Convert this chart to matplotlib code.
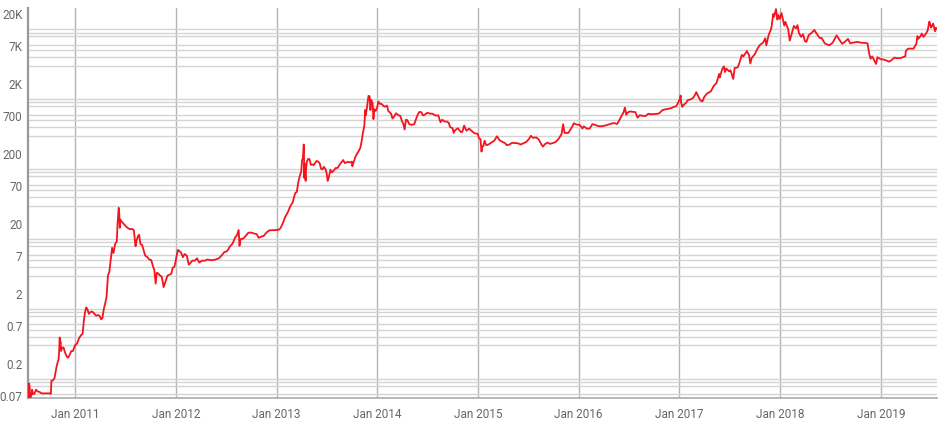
"""
Bitcoin-Kurs (USD) Juli 2010 bis Juli 2019, logarithmische Skala.
"""

import pandas as pd
import matplotlib
matplotlib.use("Agg")
from matplotlib import pyplot as plt
from matplotlib import ticker
from matplotlib.transforms import ScaledTranslation

tage_2010 = ["2010-07-17", "2010-07-18", "2010-07-20", "2010-07-22", "2010-07-24",
             "2010-07-27", "2010-07-29", "2010-08-01", "2010-08-06", "2010-08-12",
             "2010-08-18", "2010-08-25", "2010-09-01", "2010-09-10", "2010-09-20",
             "2010-09-30", "2010-10-05", "2010-10-07", "2010-10-12", "2010-10-18",
             "2010-10-25", "2010-10-29", "2010-11-02", "2010-11-04", "2010-11-06",
             "2010-11-07", "2010-11-09", "2010-11-11", "2010-11-15", "2010-11-20",
             "2010-11-25", "2010-12-01", "2010-12-06", "2010-12-12", "2010-12-18",
             "2010-12-24", "2010-12-31"]
kurs_2010 = [0.05, 0.086, 0.075, 0.051, 0.055, 0.06, 0.07, 0.061, 0.061, 0.07,
             0.066, 0.065, 0.062, 0.062, 0.062, 0.062, 0.061, 0.094, 0.095, 0.102,
             0.145, 0.17, 0.19, 0.25, 0.39, 0.30, 0.34, 0.25, 0.28, 0.28,
             0.24, 0.21, 0.20, 0.22, 0.25, 0.25, 0.30]

tage_2011 = ["2011-01-08", "2011-01-15", "2011-01-22", "2011-01-28", "2011-02-02",
             "2011-02-06", "2011-02-10", "2011-02-14", "2011-02-20", "2011-02-25",
             "2011-03-03", "2011-03-10", "2011-03-18", "2011-03-25", "2011-04-01",
             "2011-04-05", "2011-04-10", "2011-04-15", "2011-04-20", "2011-04-25",
             "2011-04-30", "2011-05-05", "2011-05-10", "2011-05-15", "2011-05-20",
             "2011-05-26", "2011-06-01", "2011-06-04", "2011-06-08", "2011-06-10",
             "2011-06-12", "2011-06-14", "2011-06-20", "2011-06-26", "2011-07-03",
             "2011-07-10", "2011-07-18", "2011-07-26", "2011-08-02", "2011-08-08",
             "2011-08-12", "2011-08-17", "2011-08-21", "2011-08-26", "2011-09-01",
             "2011-09-06", "2011-09-12", "2011-09-20", "2011-09-27", "2011-10-04",
             "2011-10-10", "2011-10-15", "2011-10-20", "2011-10-24", "2011-10-30",
             "2011-11-05", "2011-11-11", "2011-11-18", "2011-11-25", "2011-12-02",
             "2011-12-10", "2011-12-16", "2011-12-21", "2011-12-27", "2011-12-31"]
kurs_2011 = [0.32, 0.38, 0.42, 0.44, 0.70, 0.90, 1.05, 1.00, 0.85, 0.90,
             0.92, 0.87, 0.80, 0.82, 0.78, 0.71, 0.74, 1.0, 1.2, 1.5,
             3.0, 3.4, 5.0, 7.5, 6.3, 8.5, 9.2, 17, 28, 23,
             14.5, 19, 17.5, 16.5, 15.4, 14.5, 13.8, 14.0, 13.3, 7.9,
             9.6, 11.0, 11.5, 8.5, 8.2, 7.0, 5.8, 5.5, 5.1, 5.0,
             4.1, 3.6, 2.3, 3.3, 3.2, 3.0, 2.9, 2.05, 2.5, 3.0,
             3.1, 3.2, 3.9, 4.0, 4.7]

tage_2012 = ["2012-01-05", "2012-01-09", "2012-01-13", "2012-01-20", "2012-01-27",
             "2012-02-02", "2012-02-10", "2012-02-17", "2012-02-22", "2012-03-01",
             "2012-03-10", "2012-03-18", "2012-03-26", "2012-04-05", "2012-04-15",
             "2012-04-25", "2012-05-05", "2012-05-15", "2012-05-25", "2012-06-05",
             "2012-06-15", "2012-06-25", "2012-07-05", "2012-07-15", "2012-07-25",
             "2012-08-03", "2012-08-10", "2012-08-16", "2012-08-19", "2012-08-23",
             "2012-09-01", "2012-09-10", "2012-09-20", "2012-09-30", "2012-10-10",
             "2012-10-20", "2012-10-28", "2012-11-05", "2012-11-15", "2012-11-25",
             "2012-12-05", "2012-12-15", "2012-12-25", "2012-12-31"]
kurs_2012 = [6.0, 7.0, 6.8, 6.4, 5.5, 6.1, 5.8, 4.3, 4.5, 4.9,
             4.9, 5.3, 4.6, 4.9, 4.9, 5.1, 5.0, 5.0, 5.1, 5.3,
             5.8, 6.5, 6.7, 7.8, 8.6, 10.5, 11.4, 13.5, 8.0, 10.0,
             10.1, 11.0, 12.3, 12.4, 12.0, 11.8, 10.4, 10.8, 11.1, 12.4,
             13.3, 13.4, 13.4, 13.5]

tage_2013 = ["2013-01-07", "2013-01-15", "2013-01-25", "2013-01-31", "2013-02-10",
             "2013-02-20", "2013-02-28", "2013-03-05", "2013-03-10", "2013-03-15",
             "2013-03-20", "2013-03-25", "2013-03-31", "2013-04-03", "2013-04-06",
             "2013-04-09", "2013-04-10", "2013-04-11", "2013-04-12", "2013-04-14",
             "2013-04-16", "2013-04-17", "2013-04-20", "2013-04-25", "2013-04-30",
             "2013-05-05", "2013-05-10", "2013-05-15", "2013-05-20", "2013-05-26",
             "2013-06-01", "2013-06-06", "2013-06-11", "2013-06-16", "2013-06-21",
             "2013-06-27", "2013-07-01", "2013-07-05", "2013-07-09", "2013-07-15",
             "2013-07-20", "2013-07-27", "2013-08-03", "2013-08-10", "2013-08-20",
             "2013-08-30", "2013-09-05", "2013-09-15", "2013-09-25", "2013-10-01",
             "2013-10-02", "2013-10-06", "2013-10-15", "2013-10-25", "2013-10-31",
             "2013-11-05", "2013-11-10", "2013-11-15", "2013-11-18", "2013-11-20",
             "2013-11-25", "2013-11-30", "2013-12-04", "2013-12-07", "2013-12-10",
             "2013-12-15", "2013-12-18", "2013-12-21", "2013-12-26", "2013-12-31"]
kurs_2013 = [13.5, 14.3, 17.5, 20.4, 24, 29.8, 33.4, 40, 46, 47,
             64, 78, 93, 135, 142, 225, 165, 75, 120, 90,
             68, 93, 126, 140, 139, 115, 117, 114, 122, 131,
             128, 121, 101, 99, 108, 100, 88, 68, 76, 98,
             90, 95, 104, 104, 120, 135, 122, 127, 125, 128,
             110, 122, 155, 180, 200, 250, 335, 420, 700, 590,
             790, 1120, 1100, 700, 980, 870, 520, 720, 680, 750]

tage_2014 = ["2014-01-05", "2014-01-10", "2014-01-15", "2014-01-20", "2014-01-27",
             "2014-02-05", "2014-02-10", "2014-02-15", "2014-02-20", "2014-02-25",
             "2014-03-02", "2014-03-10", "2014-03-18", "2014-03-25", "2014-04-01",
             "2014-04-05", "2014-04-10", "2014-04-15", "2014-04-20", "2014-04-27",
             "2014-05-05", "2014-05-15", "2014-05-25", "2014-06-01", "2014-06-05",
             "2014-06-10", "2014-06-15", "2014-06-22", "2014-07-01", "2014-07-10",
             "2014-07-20", "2014-07-31", "2014-08-05", "2014-08-10", "2014-08-18",
             "2014-08-25", "2014-09-01", "2014-09-10", "2014-09-17", "2014-09-22",
             "2014-10-01", "2014-10-05", "2014-10-10", "2014-10-20", "2014-10-31",
             "2014-11-05", "2014-11-12", "2014-11-20", "2014-11-30", "2014-12-10",
             "2014-12-20", "2014-12-31"]
kurs_2014 = [930, 860, 860, 830, 780, 810, 680, 650, 620, 530,
             560, 630, 590, 580, 480, 450, 370, 510, 500, 440,
             430, 440, 570, 650, 660, 650, 590, 600, 640, 625,
             620, 585, 585, 590, 470, 510, 480, 480, 460, 400,
             385, 330, 360, 385, 340, 340, 420, 355, 380, 350,
             325, 320]

tage_2015 = ["2015-01-05", "2015-01-10", "2015-01-14", "2015-01-16", "2015-01-20",
             "2015-01-25", "2015-01-31", "2015-02-08", "2015-02-15", "2015-02-22",
             "2015-03-01", "2015-03-06", "2015-03-11", "2015-03-20", "2015-03-31",
             "2015-04-10", "2015-04-15", "2015-04-25", "2015-05-05", "2015-05-15",
             "2015-05-25", "2015-06-05", "2015-06-15", "2015-06-25", "2015-07-05",
             "2015-07-12", "2015-07-20", "2015-07-31", "2015-08-10", "2015-08-19",
             "2015-08-25", "2015-09-01", "2015-09-10", "2015-09-20", "2015-10-01",
             "2015-10-10", "2015-10-20", "2015-10-31", "2015-11-04", "2015-11-06",
             "2015-11-11", "2015-11-18", "2015-11-25", "2015-12-01", "2015-12-06",
             "2015-12-10", "2015-12-15", "2015-12-20", "2015-12-31"]
kurs_2015 = [275, 270, 178, 210, 212, 255, 220, 225, 235, 245,
             255, 275, 295, 260, 245, 235, 220, 225, 238, 236,
             235, 225, 235, 245, 270, 300, 280, 285, 265, 225,
             210, 228, 240, 230, 237, 245, 270, 315, 400, 440,
             330, 330, 330, 360, 390, 415, 455, 440, 430]

tage_2016 = ["2016-01-05", "2016-01-15", "2016-01-20", "2016-01-31", "2016-02-10",
             "2016-02-20", "2016-03-01", "2016-03-10", "2016-03-20", "2016-04-01",
             "2016-04-15", "2016-04-30", "2016-05-10", "2016-05-20", "2016-05-31",
             "2016-06-05", "2016-06-12", "2016-06-17", "2016-06-22", "2016-06-27",
             "2016-07-05", "2016-07-15", "2016-07-25", "2016-08-02", "2016-08-10",
             "2016-08-20", "2016-08-31", "2016-09-10", "2016-09-20", "2016-10-01",
             "2016-10-10", "2016-10-20", "2016-10-31", "2016-11-10", "2016-11-20",
             "2016-11-30", "2016-12-10", "2016-12-20", "2016-12-31"]
kurs_2016 = [430, 380, 410, 380, 380, 440, 430, 415, 410, 415,
             430, 450, 455, 443, 530, 580, 650, 760, 600, 645,
             670, 660, 655, 545, 590, 580, 575, 620, 610, 615,
             615, 630, 700, 715, 730, 740, 775, 790, 960]

tage_2017 = ["2017-01-03", "2017-01-05", "2017-01-07", "2017-01-11", "2017-01-15",
             "2017-01-25", "2017-02-01", "2017-02-10", "2017-02-20", "2017-02-28",
             "2017-03-03", "2017-03-10", "2017-03-18", "2017-03-25", "2017-04-01",
             "2017-04-10", "2017-04-25", "2017-05-05", "2017-05-15", "2017-05-25",
             "2017-05-27", "2017-06-05", "2017-06-11", "2017-06-15", "2017-06-20",
             "2017-06-30", "2017-07-05", "2017-07-15", "2017-07-20", "2017-07-31",
             "2017-08-05", "2017-08-15", "2017-08-20", "2017-08-31", "2017-09-02",
             "2017-09-10", "2017-09-15", "2017-09-20", "2017-10-01", "2017-10-12",
             "2017-10-20", "2017-10-31", "2017-11-08", "2017-11-12", "2017-11-20",
             "2017-11-28", "2017-12-01", "2017-12-07", "2017-12-10", "2017-12-17",
             "2017-12-22", "2017-12-26", "2017-12-31"]
kurs_2017 = [1020, 1130, 890, 780, 820, 890, 980, 990, 1050, 1190,
             1260, 1100, 960, 930, 1080, 1200, 1300, 1550, 1700, 2300,
             2050, 2700, 2950, 2450, 2750, 2500, 2600, 1950, 2800, 2850,
             3200, 4300, 4100, 4700, 4900, 4300, 3250, 3900, 4400, 5400,
             5990, 6450, 7450, 5900, 8200, 9800, 10900, 16600, 15200, 19500,
             13800, 16000, 14100]

tage_2018 = ["2018-01-06", "2018-01-10", "2018-01-16", "2018-01-20", "2018-01-30",
             "2018-02-05", "2018-02-10", "2018-02-20", "2018-02-28", "2018-03-05",
             "2018-03-10", "2018-03-18", "2018-03-25", "2018-04-01", "2018-04-06",
             "2018-04-15", "2018-04-25", "2018-05-05", "2018-05-15", "2018-05-25",
             "2018-06-01", "2018-06-12", "2018-06-28", "2018-07-10", "2018-07-25",
             "2018-08-05", "2018-08-14", "2018-08-25", "2018-09-04", "2018-09-12",
             "2018-09-25", "2018-10-10", "2018-10-20", "2018-11-05", "2018-11-14",
             "2018-11-20", "2018-11-25", "2018-12-01", "2018-12-15", "2018-12-20",
             "2018-12-31"]
kurs_2018 = [17100, 14600, 11300, 12800, 10100, 6900, 8100, 11200, 10300, 11500,
             8900, 7800, 8500, 6800, 6600, 8300, 8900, 9800, 8500, 7500,
             7500, 6300, 5900, 6400, 8200, 7000, 6200, 6700, 7300, 6300,
             6500, 6600, 6450, 6400, 6300, 4500, 3800, 4100, 3200, 4000,
             3750]

tage_2019 = ["2019-01-10", "2019-01-20", "2019-01-31", "2019-02-08", "2019-02-20",
             "2019-03-01", "2019-03-15", "2019-03-31", "2019-04-02", "2019-04-10",
             "2019-04-20", "2019-04-30", "2019-05-10", "2019-05-14", "2019-05-17",
             "2019-05-25", "2019-05-30", "2019-06-05", "2019-06-15", "2019-06-20",
             "2019-06-26", "2019-06-28", "2019-07-02", "2019-07-05", "2019-07-10",
             "2019-07-15", "2019-07-17", "2019-07-20", "2019-07-22"]
kurs_2019 = [3700, 3600, 3450, 3600, 3950, 3850, 3900, 4100, 4900, 5300,
             5300, 5300, 6200, 8000, 7300, 8000, 8700, 7800, 8800, 9600,
             12900, 12400, 10600, 11000, 12100, 10200, 9400, 10500, 10300]

# Achsenbeschriftungen:

y_ticks = [0.07, 0.2, 0.7, 2, 7, 20, 70, 200, 700, 2000, 7000, 20000]
y_labels = ["0.07", "0.2", "0.7", "2", "7", "20", "70", "200", "700", "2K", "7K", "20K"]
jahre = list(range(2011, 2020))
x_labels = ["Jan %d" % j for j in jahre]


def main():
    tage = pd.to_datetime(tage_2010 + tage_2011 + tage_2012 + tage_2013 + tage_2014
                          + tage_2015 + tage_2016 + tage_2017 + tage_2018 + tage_2019)
    kurs = (kurs_2010 + kurs_2011 + kurs_2012 + kurs_2013 + kurs_2014
            + kurs_2015 + kurs_2016 + kurs_2017 + kurs_2018 + kurs_2019)

    plt.rcParams["font.family"] = ["Roboto", "DejaVu Sans"]
    fig = plt.figure(figsize=(9.4, 4.25), dpi=100)
    ax = fig.add_axes([28 / 940, 27 / 425, 909 / 940, 390 / 425])

    ax.plot(tage, kurs, color="#f5141e", linewidth=1.3, zorder=3)
    ax.set_yscale("log")
    ax.set_ylim(0.0532, 20200)
    ax.set_xlim(pd.Timestamp("2010-07-14"), pd.Timestamp("2019-07-24"))

    # Gitter: alle 1..9 * 10^n horizontal, Jahresanfaenge vertikal
    gitter = [m * 10.0 ** e for e in range(-2, 5) for m in range(1, 10)]
    gitter = [g for g in gitter if 0.0532 <= g <= 20200]
    ax.yaxis.set_major_locator(ticker.FixedLocator(y_ticks))
    ax.yaxis.set_major_formatter(ticker.FixedFormatter(y_labels))
    ax.yaxis.set_minor_locator(ticker.FixedLocator(gitter))
    ax.yaxis.set_minor_formatter(ticker.NullFormatter())
    ax.yaxis.grid(True, which="minor", color="#d4d4d4", linewidth=1.0)
    ax.tick_params(axis="y", which="both", length=0, labelsize=8.5,
                   labelcolor="#666666", pad=4)

    x_pos = [pd.Timestamp("%d-01-01" % j) for j in jahre]
    ax.set_xticks(x_pos)
    ax.set_xticklabels(x_labels)
    ax.xaxis.grid(True, color="#b4b4b4", linewidth=1.0)
    ax.tick_params(axis="x", length=0, labelsize=8.5, labelcolor="#666666", pad=7)
    ax.set_axisbelow(True)

    # Labels der y-Achse sitzen etwas unterhalb der Gitterlinie
    versatz = ScaledTranslation(0, -0.06, fig.dpi_scale_trans)
    for lab in ax.get_yticklabels():
        lab.set_transform(lab.get_transform() + versatz)

    for seite in ["top", "right"]:
        ax.spines[seite].set_visible(False)
    ax.spines["left"].set_color("#999999")
    ax.spines["left"].set_linewidth(1.6)
    ax.spines["bottom"].set_color("#aaaaaa")
    ax.spines["bottom"].set_linewidth(1.2)

    fig.savefig("out.png", dpi=100)


if __name__ == "__main__":
    main()
